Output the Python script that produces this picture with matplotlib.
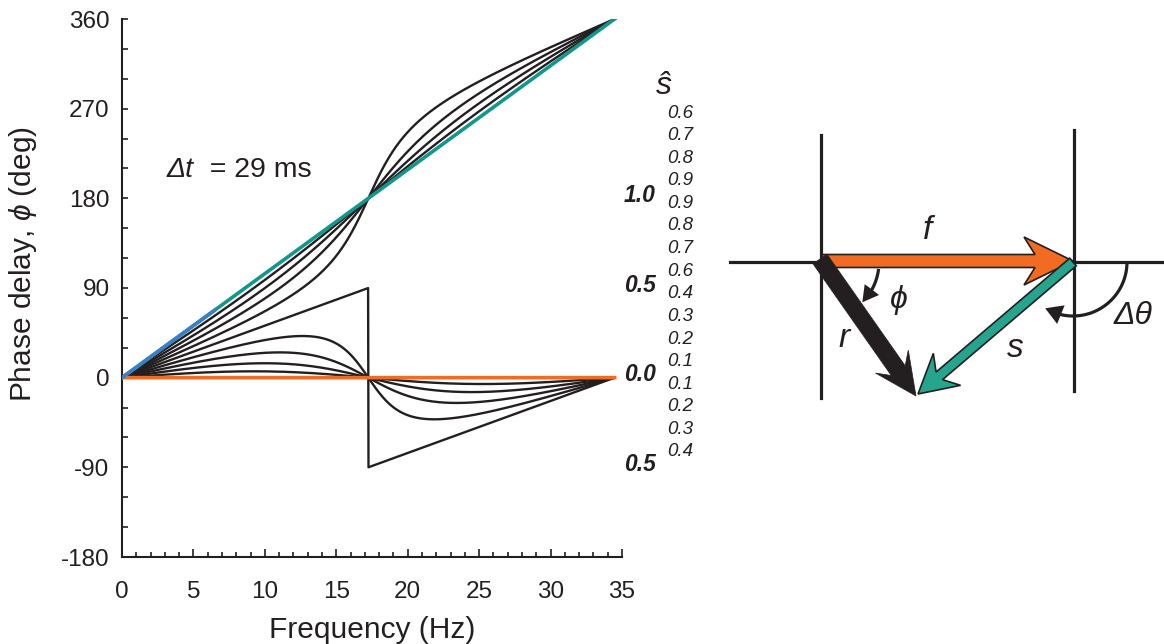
import numpy as np
import matplotlib
matplotlib.use("Agg")
import matplotlib.pyplot as plt
from matplotlib.patches import Polygon
from matplotlib.ticker import MultipleLocator, FixedLocator

plt.rcParams['font.family'] = ['Liberation Sans', 'DejaVu Sans']
plt.rcParams['axes.unicode_minus'] = False
plt.rcParams['mathtext.fontset'] = 'custom'
plt.rcParams['mathtext.rm'] = 'Liberation Sans'
plt.rcParams['mathtext.it'] = 'Liberation Sans:italic'

# ---- data ----------------------------------------------------------------
DELAY_S = 0.029                      # Δt = 29 ms
S_HAT_UPPER = [0.6, 0.7, 0.8, 0.9]   # curves through (17.2 Hz, 180°)
S_HAT_LOWER = [0.1, 0.2, 0.3, 0.4]   # curves through (17.2 Hz, 0°)
S_HAT_HALF = 0.5                     # sawtooth
S_HAT_FULL = 1.0                     # teal line
S_HAT_ZERO = 0.0                     # orange line
BLUE_END_HZ = 6.5                    # blue part of the full line

X_TICKS = [0, 5, 10, 15, 20, 25, 30, 35]
Y_TICKS = [-180, -90, 0, 90, 180, 270, 360]

SHAT_COLUMN = ['0.6', '0.7', '0.8', '0.9', '0.9', '0.8', '0.7', '0.6',
               '0.4', '0.3', '0.2', '0.1', '0.1', '0.2', '0.3', '0.4']
SHAT_BOLD = ['1.0', '0.5', '0.0', '0.5']
SHAT_BOLD_LEVELS = [180, 90, 0, -90]

BLACK = '#231f20'
TEAL = '#13978a'
ORANGE = '#f26b22'
BLUE = '#3b7fc4'
TEAL_ARROW = '#25a58e'


def phase_delay(freq, s_hat):
    """Phase of r = f + s, with s delayed by DELAY_S and relative size s_hat."""
    dtheta = 2 * np.pi * freq * DELAY_S
    if s_hat >= 1.0:
        return np.degrees(dtheta)
    s = s_hat / (1.0 - s_hat)
    phi = np.arctan2(s * np.sin(dtheta), 1.0 + s * np.cos(dtheta))
    if s > 1.0:
        phi = np.unwrap(phi)
    return np.degrees(phi)


def arrow_poly(start, tip, half_w, head_len, head_half, notch):
    p0 = np.array(start, float)
    p1 = np.array(tip, float)
    u = (p1 - p0) / np.hypot(*(p1 - p0))
    v = np.array([-u[1], u[0]])
    joint = p1 - u * (head_len - notch)
    base = p1 - u * head_len
    return [p0 + v * half_w, joint + v * half_w, base + v * head_half, p1,
            base - v * head_half, joint - v * half_w, p0 - v * half_w]


def arc_arrow(ax, center, radius, a0, a1, head_len, head_half):
    cx, cy = center
    sign = np.sign(a1 - a0)
    da = np.degrees(head_len / radius) * sign
    t = np.radians(np.linspace(a0, a1 - 0.7 * da, 80))
    ax.plot(cx + radius * np.cos(t), cy + radius * np.sin(t),
            color=BLACK, lw=2.3, solid_capstyle='butt', zorder=5)
    ta, ba = np.radians(a1), np.radians(a1 - da)
    tip = np.array([cx + radius * np.cos(ta), cy + radius * np.sin(ta)])
    base = np.array([cx + radius * np.cos(ba), cy + radius * np.sin(ba)])
    u = (tip - base) / np.linalg.norm(tip - base)
    v = np.array([-u[1], u[0]])
    ax.add_patch(Polygon([tip, base + v * head_half, base - v * head_half],
                         closed=True, facecolor=BLACK, edgecolor='none', zorder=5))


fig = plt.figure(figsize=(11.64, 6.44), dpi=100)

# ---- left: phase delay vs frequency -------------------------------------
ax = fig.add_axes([122 / 1164, 1 - 557 / 644, 500 / 1164, 538 / 644])
freq = np.linspace(0, 1 / DELAY_S, 1200)

for sh in S_HAT_LOWER + S_HAT_UPPER + [S_HAT_HALF]:
    ax.plot(freq, phase_delay(freq, sh), color=BLACK, lw=1.7, zorder=2)

ax.plot(freq, phase_delay(freq, S_HAT_FULL), color=TEAL, lw=2.6, zorder=3)
blue = freq <= BLUE_END_HZ
ax.plot(freq[blue], phase_delay(freq[blue], S_HAT_FULL), color=BLUE, lw=2.6, zorder=4)
ax.plot(freq, phase_delay(freq, S_HAT_ZERO), color=ORANGE, lw=2.6, zorder=3)

ax.set_xlim(0, 35)
ax.set_ylim(-180, 360)
ax.xaxis.set_major_locator(FixedLocator(X_TICKS))
ax.xaxis.set_minor_locator(MultipleLocator(1))
ax.yaxis.set_major_locator(FixedLocator(Y_TICKS))
ax.yaxis.set_minor_locator(MultipleLocator(30))
for side in ['top', 'right']:
    ax.spines[side].set_visible(False)
for side in ['left', 'bottom']:
    ax.spines[side].set_linewidth(1.5)
    ax.spines[side].set_color(BLACK)
ax.tick_params(axis='both', which='both', direction='in', color=BLACK,
               labelcolor=BLACK, labelsize=17.5, width=1.2)
ax.tick_params(axis='x', which='major', length=5.5, pad=17)
ax.tick_params(axis='x', which='minor', length=3.5)
ax.tick_params(axis='y', which='both', length=4.5, pad=9)

ax.set_xlabel('Frequency (Hz)', fontsize=21.5, color=BLACK)
ax.xaxis.set_label_coords(0.5, -0.11)
ax.set_ylabel(r'Phase delay, $\phi$ (deg)', fontsize=21.5, color=BLACK)
ax.yaxis.set_label_coords(-0.165, 0.545)

t1 = ax.text(3.15, 208, 'Δt', fontsize=20.5, style='italic', color=BLACK, va='center')
ax.annotate('  = 29 ms', xy=(1, 0), xycoords=t1, fontsize=20.5, color=BLACK,
            va='bottom', ha='left')

# s-hat legend column
px_per_deg = 538 / 540
zero_px = 19 + 360 * px_per_deg
for i, lab in enumerate(SHAT_COLUMN):
    y_px = 113 + 22.6 * i
    ax.text((667 - 122) / (500 / 35), (zero_px - y_px) / px_per_deg, lab,
            fontsize=13.5, style='italic', color=BLACK, ha='left', va='center',
            clip_on=False)
for lab, lev in zip(SHAT_BOLD, SHAT_BOLD_LEVELS):
    ax.text((656 - 122) / (500 / 35), lev + 3, lab, fontsize=16.5, style='italic',
            fontweight='bold', color=BLACK, ha='right', va='center', clip_on=False)
ax.text((664 - 122) / (500 / 35), (zero_px - 86) / px_per_deg, 'ŝ',
        fontsize=23, style='italic', color=BLACK, ha='center', va='center',
        clip_on=False)

# ---- right: phasor diagram ----------------------------------------------
dx0 = 700
dax = fig.add_axes([dx0 / 1164, 0, (1164 - dx0) / 1164, 1])
dax.set_xlim(dx0, 1164)
dax.set_ylim(644, 0)
dax.axis('off')

dax.plot([730, 1164], [262, 262], color=BLACK, lw=2.3, zorder=1)
dax.plot([821, 821], [135, 398], color=BLACK, lw=2.3, zorder=1)
dax.plot([1074, 1074], [130, 391], color=BLACK, lw=2.3, zorder=1)

dax.add_patch(Polygon(arrow_poly((822, 261), (1073, 261), 6.5, 49, 24, 11),
                      closed=True, facecolor=ORANGE, edgecolor=BLACK, lw=1.2,
                      joinstyle='miter', zorder=2))
dax.add_patch(Polygon(arrow_poly((1073, 262), (918, 394), 5, 38, 21, 10),
                      closed=True, facecolor=TEAL_ARROW, edgecolor=BLACK, lw=1.2,
                      joinstyle='miter', zorder=3))
dax.add_patch(Polygon(arrow_poly((820, 259), (916, 396), 8.5, 42, 20, 11),
                      closed=True, facecolor=BLACK, edgecolor=BLACK, lw=0.5,
                      joinstyle='miter', zorder=4))

arc_arrow(dax, (822, 262), 57, 7, 45, 16, 9)
arc_arrow(dax, (1073, 262), 54, 0, 121, 17, 10)

dax.text(928, 230, 'f', fontsize=24, style='italic', color=BLACK, ha='center', va='center')
dax.text(899, 300, 'ϕ', fontsize=23, style='italic', color=BLACK, ha='center', va='center')
dax.text(844, 338, 'r', fontsize=24, style='italic', color=BLACK, ha='center', va='center')
dax.text(1015, 348, 's', fontsize=24, style='italic', color=BLACK, ha='center', va='center')
dax.text(1133, 316, 'Δθ', fontsize=23, style='italic', color=BLACK, ha='center', va='center')

fig.savefig('out.png', dpi=100)
